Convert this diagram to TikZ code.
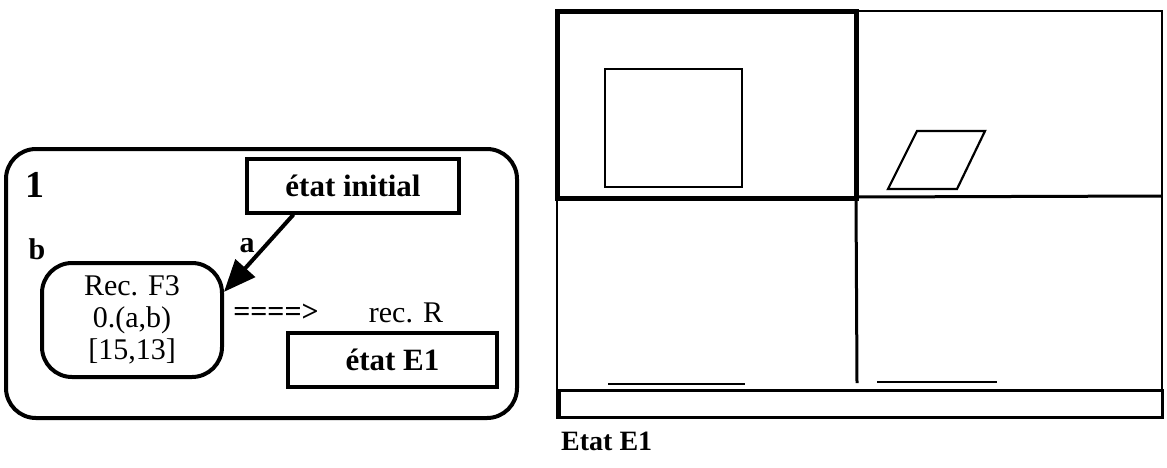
\documentclass[tikz,border=0pt]{standalone}
\usepackage{fontspec}
\setmainfont{Liberation Serif}
\usetikzlibrary{arrows.meta,positioning}
\tikzset{
  lbl/.style={font=\fontsize{#1}{#1}\selectfont\bfseries, inner sep=0pt},
  etatbox/.style={draw, line width=4pt, font=\fontsize{31}{32}\selectfont\bfseries,
                  minimum width=#1, minimum height=54pt, inner sep=0pt},
  recbox/.style={draw, line width=4pt, rounded corners=30pt, font=\fontsize{30}{32}\selectfont,
                 minimum width=180pt, minimum height=114pt, align=center, inner sep=0pt},
  plain/.style={font=\fontsize{30}{32}\selectfont, inner sep=0pt},
}

\begin{document}
\begin{tikzpicture}[x=1pt, y=-1pt]
\useasboundingbox (0,0) rectangle (1167,467);

% Left panel: rule frame
\node[draw, line width=4pt, rounded corners=30pt, minimum width=511pt, minimum height=269pt]
      (frame) at (261.5,283.5) {};
\node[lbl=38] (num) at (35,185) {1};
\node[lbl=30] (lb) at (37,249) {b};
\node[lbl=30] (la) at (247,246) {a};

% States and record
\node[etatbox=212pt] (init) at (353,185.5) {état initial};
\node[recbox] (rec) at (132,320) {Rec. F3\\0.(a,b)\\{}[15,13]};
\node[plain, font=\fontsize{30}{32}\selectfont\bfseries] (impl) at (276,313) {====>};
\node[plain] (recR) at (406,313) {rec. R};
\node[etatbox=209pt] (etatE) at (392.5,360) {état E1};

\draw[-{Triangle[length=32pt, width=26pt]}, line width=4pt] (init.206) -- (rec.17);

% Right panel: screen view of state E1
\draw[line width=1.8pt] (557,11) rectangle (1162,418);
\draw[line width=5pt] (557,11) rectangle (856,198);
\draw[line width=3pt] (856,198) -- (857,383);
\draw[line width=3pt] (856,197) -- (1162,196);
\draw[line width=2.5pt] (605,69) rectangle (742,187);
\draw[line width=2.2pt] (917,131) -- (985,131) -- (957,189) -- (888,189) -- cycle;
\draw[line width=1.6pt] (608,384) -- (745,384);
\draw[line width=1.6pt] (877,382) -- (997,382);
\draw[line width=3pt] (559,390) rectangle (1162,417);
\node[lbl=28, anchor=west] (cap) at (561,441) {Etat E1};

\end{tikzpicture}
\end{document}
